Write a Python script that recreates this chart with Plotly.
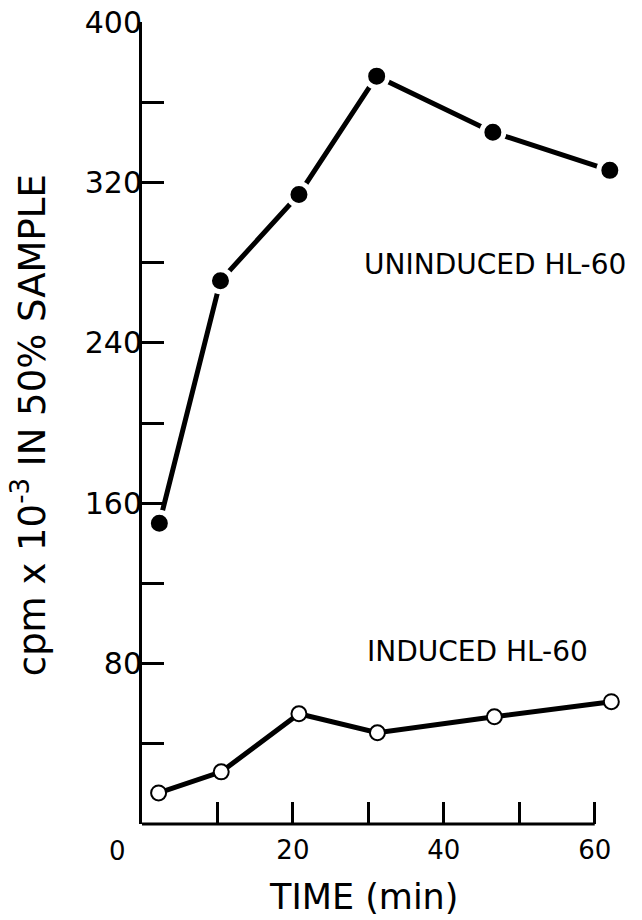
import plotly.graph_objects as go

# Incubation time (min) and counts (cpm x 10^-3 in 50% sample)
time_uninduced = [2.3, 10.4, 20.8, 31.1, 46.5, 62.0]
cpm_uninduced = [150, 271, 314, 373, 345, 326]

time_induced = [2.2, 10.5, 20.8, 31.2, 46.7, 62.2]
cpm_induced = [15.5, 26, 55, 45.5, 53.5, 61]

x_tick_values = [20, 40, 60]
x_tick_labels = ["20", "40", "60"]
x_minor_step = 10
x_origin_label = "0"

y_tick_values = [80, 160, 240, 320, 400]
y_tick_labels = ["80", "160", "240", "320", "400"]
y_minor_step = 40

label_uninduced = "UNINDUCED HL-60"
label_induced = "INDUCED HL-60"

FONT = "DejaVu Sans"
X_MAX = 66
X_AXIS_END = 60

fig = go.Figure()

# Uninduced cells: filled dots, white halo leaves a gap in the line
fig.add_trace(go.Scatter(
    x=time_uninduced, y=cpm_uninduced, mode="lines+markers",
    line=dict(color="black", width=5),
    marker=dict(size=22, color="black", line=dict(color="white", width=5)),
    cliponaxis=False, showlegend=False,
))

# Induced cells: open circles
fig.add_trace(go.Scatter(
    x=time_induced, y=cpm_induced, mode="lines+markers",
    line=dict(color="black", width=5),
    marker=dict(size=15, color="white", line=dict(color="black", width=2)),
    cliponaxis=False, showlegend=False,
))

# x-axis baseline running from 0 to 60 min
fig.add_shape(type="line", xref="paper", yref="paper",
              x0=0, x1=X_AXIS_END / X_MAX, y0=0, y1=0,
              line=dict(color="black", width=3), layer="above")

fig.add_annotation(x=0, y=0, xref="x", yref="paper", text=x_origin_label,
                   showarrow=False, xanchor="center", yanchor="top",
                   xshift=-25, yshift=-10,
                   font=dict(family=FONT, size=26, color="black"))

fig.add_annotation(x=29.1, y=279, xref="x", yref="y", text=label_uninduced,
                   showarrow=False, xanchor="left", yanchor="middle",
                   font=dict(family=FONT, size=28, color="black"))
fig.add_annotation(x=29.6, y=86, xref="x", yref="y", text=label_induced,
                   showarrow=False, xanchor="left", yanchor="middle",
                   font=dict(family=FONT, size=28, color="black"))

fig.add_annotation(x=0.4438, y=-0.0906, xref="paper", yref="paper",
                   text="TIME (min)", showarrow=False,
                   xanchor="center", yanchor="middle",
                   font=dict(family=FONT, size=35, color="black"))

fig.add_annotation(x=-0.2265, y=0.4975, xref="paper", yref="paper",
                   text="cpm x 10<sup>-3</sup> IN 50% SAMPLE", textangle=-90,
                   showarrow=False, xanchor="center", yanchor="middle",
                   font=dict(family=FONT, size=37, color="black"))

tick_style = dict(ticks="inside", ticklen=22, tickwidth=2.5, tickcolor="black")

fig.update_layout(
    width=642, height=920,
    margin=dict(l=142, r=2, t=22, b=96),
    paper_bgcolor="white", plot_bgcolor="white",
    font=dict(family=FONT, color="black"),
    xaxis=dict(
        range=[0, X_MAX], showline=False, showgrid=False, zeroline=False,
        tickvals=x_tick_values, ticktext=x_tick_labels,
        tickfont=dict(family=FONT, size=26, color="black"),
        ticklabelstandoff=8,
        minor=dict(tick0=0, dtick=x_minor_step, showgrid=False, **tick_style),
        **tick_style,
    ),
    yaxis=dict(
        range=[0, 400], showline=True, linewidth=3, linecolor="black",
        showgrid=False, zeroline=False,
        tickvals=y_tick_values, ticktext=y_tick_labels,
        tickfont=dict(family=FONT, size=30, color="black"),
        ticklabelstandoff=-9,
        minor=dict(tick0=0, dtick=y_minor_step, showgrid=False, **tick_style),
        **tick_style,
    ),
)

fig.write_html("out.html")
